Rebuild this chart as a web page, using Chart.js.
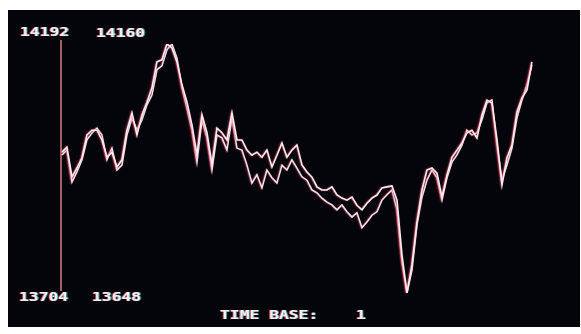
<!DOCTYPE html>
<html>
<head>
<meta charset="utf-8">
<script src="https://cdn.jsdelivr.net/npm/chart.js@4/dist/chart.umd.min.js"></script>
<style>
  html, body { margin: 0; padding: 0; background: #ffffff; }
  #scope {
    position: absolute; left: 8px; top: 10px;
    width: 572px; height: 317px;
    background: #04050b;
  }
  #scope canvas { display: block; }
</style>
</head>
<body>
<div id="scope"><canvas id="trace"></canvas></div>
<script>
// Sample counter along the time base
const samples = Array.from({ length: 95 }, (_, i) => i);

// Trace 1 (left scale, 14192 .. 13704)
const traceA = [
  13980, 13990, 13931, 13949, 13969, 14014, 14023, 14023, 14004, 13970,
  13980, 13951, 13965, 14023, 14057, 14014, 14053, 14078, 14106, 14157,
  14161, 14192, 14184, 14157, 14112, 14078, 14033, 13974, 14053, 14018,
  13955, 14027, 14018, 14004, 14057, 14004, 14004, 13984, 13974, 13980,
  13970, 13984, 13951, 13974, 13998, 13970, 13984, 13994, 13955, 13941,
  13931, 13912, 13906, 13906, 13912, 13896, 13890, 13886, 13892, 13876,
  13867, 13880, 13890, 13896, 13910, 13912, 13914, 13886, 13778, 13704,
  13759, 13843, 13906, 13945, 13949, 13939, 13892, 13935, 13970, 13984,
  13998, 14018, 14023, 14008, 14053, 14082, 14076, 14004, 13916, 13969,
  13994, 14059, 14086, 14102, 14157
];

// Trace 2 (own scale, 14160 .. 13648)
const traceB = [
  13932, 13942, 13876, 13897, 13922, 13963, 13977, 13987, 13973, 13922,
  13946, 13901, 13911, 13973, 14008, 13983, 14004, 14035, 14055, 14107,
  14115, 14148, 14160, 14131, 14070, 14028, 13983, 13917, 14004, 13967,
  13901, 13973, 13967, 13942, 14008, 13946, 13942, 13911, 13874, 13891,
  13864, 13901, 13885, 13874, 13911, 13901, 13922, 13905, 13887, 13880,
  13860, 13854, 13843, 13835, 13829, 13819, 13829, 13815, 13804, 13813,
  13782, 13794, 13808, 13815, 13839, 13850, 13860, 13819, 13712, 13648,
  13695, 13788, 13845, 13880, 13901, 13885, 13839, 13885, 13917, 13932,
  13952, 13983, 13973, 13977, 14004, 14039, 14045, 13952, 13880, 13911,
  13946, 14008, 14045, 14076, 14117
];

// Scale read-outs printed on the screen
const topLabels = ['14192', '14160'];
const bottomLabels = ['13704', '13648'];
const timeBaseLabel = 'TIME BASE:';
const timeBaseValue = '1';

const INK = '#f3eef0';

// Draws text with a slight red/cyan CRT fringe, stretched horizontally
function crtText(ctx, str, x, y) {
  const sx = 1.36;
  ctx.save();
  ctx.font = 'bold 12px "DejaVu Sans Mono", monospace';
  ctx.textBaseline = 'alphabetic';
  ctx.translate(x, y);
  ctx.scale(sx, 1);
  ctx.fillStyle = 'rgba(255,90,110,0.75)';
  ctx.fillText(str, -0.8, 0);
  ctx.fillStyle = 'rgba(90,230,230,0.6)';
  ctx.fillText(str, 0.8, 0);
  ctx.fillStyle = INK;
  ctx.fillText(str, 0, 0);
  ctx.restore();
}

const screenPlugin = {
  id: 'screen',
  beforeDatasetsDraw(chart) {
    const { ctx, chartArea } = chart;
    // vertical scale bar
    ctx.save();
    ctx.strokeStyle = '#e88a8e';
    ctx.lineWidth = 1.4;
    ctx.beginPath();
    ctx.moveTo(chartArea.left - 1, chartArea.top - 4);
    ctx.lineTo(chartArea.left - 1, chartArea.bottom - 2);
    ctx.stroke();
    ctx.restore();
    // fringe glow on the traces
    ctx.save();
    ctx.shadowColor = 'rgba(255,80,110,0.8)';
    ctx.shadowBlur = 1.5;
    ctx.shadowOffsetX = -0.7;
  },
  afterDatasetsDraw(chart) {
    const { ctx } = chart;
    ctx.restore();
    crtText(ctx, topLabels[0], 12, 26);
    crtText(ctx, topLabels[1], 88, 27);
    crtText(ctx, bottomLabels[0], 11, 291);
    crtText(ctx, bottomLabels[1], 84, 291);
    crtText(ctx, timeBaseLabel, 212, 309);
    crtText(ctx, timeBaseValue, 348, 309);
  }
};

new Chart(document.getElementById('trace'), {
  type: 'line',
  data: {
    labels: samples,
    datasets: [
      {
        data: traceA,
        yAxisID: 'y',
        borderColor: INK,
        borderWidth: 1.6,
        pointRadius: 0,
        tension: 0,
        fill: false
      },
      {
        data: traceB,
        yAxisID: 'y2',
        borderColor: '#e9e4ee',
        borderWidth: 1.5,
        pointRadius: 0,
        tension: 0,
        fill: false
      }
    ]
  },
  options: {
    responsive: true,
    maintainAspectRatio: false,
    animation: false,
    events: [],
    layout: { padding: { left: 54, right: 48, top: 34, bottom: 34 } },
    plugins: {
      legend: { display: false },
      tooltip: { enabled: false },
      title: { display: false }
    },
    scales: {
      x: { type: 'category', display: false, offset: false },
      y: { display: false, min: 13704, max: 14192 },
      y2: { display: false, min: 13648, max: 14160 }
    }
  },
  plugins: [screenPlugin]
});
</script>
</body>
</html>
